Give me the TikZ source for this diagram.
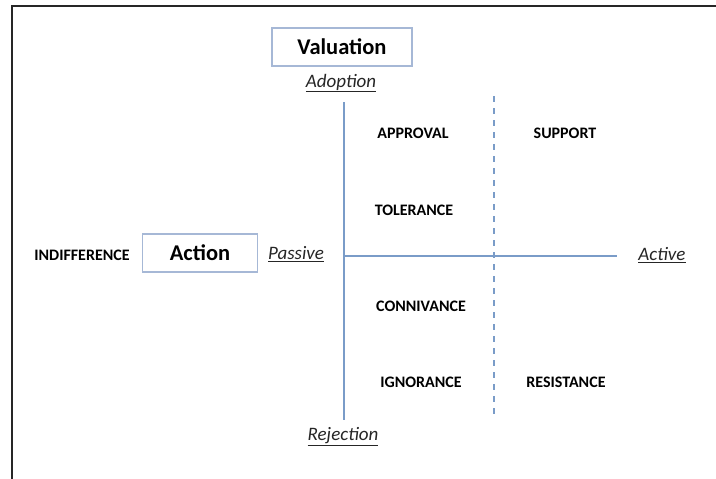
\documentclass[tikz,border=0pt]{standalone}
\usepackage{fontspec}
\setmainfont{Carlito}
\begin{document}
\begin{tikzpicture}[x=1pt,y=-1pt,
  frame/.style={draw=black!85, line width=2.2pt},
  axis/.style={draw=axisblue, line width=2.2pt},
  dashaxis/.style={draw=axisblue, line width=1.8pt, dash pattern=on 6pt off 6pt},
  titlebox/.style={draw=boxblue, line width=1.2pt, font=\bfseries\fontsize{22.5}{24}\selectfont, inner sep=0pt},
  quad/.style={font=\bfseries\fontsize{16}{18}\selectfont},
  pole/.style={font=\itshape\fontsize{19}{21}\selectfont, text=black!85}]
\definecolor{axisblue}{RGB}{122,156,200}
\definecolor{boxblue}{RGB}{166,184,214}
\useasboundingbox (0,0) rectangle (716,479);
\fill[white] (0,0) rectangle (716,479);
% frame
\coordinate (fTR) at (716,6);
\coordinate (fTL) at (12,6);
\coordinate (fBL) at (12,479);
\draw[frame] (fTR) -- (fTL) -- (fBL);
% title boxes
\node[titlebox, minimum width=140pt, minimum height=38pt] (val) at (342,47) {Valuation};
\node[titlebox, minimum width=115pt, minimum height=38pt] (act) at (200,253) {Action};
% poles
\node[pole] (adopt) at (341,83) {\underline{Adoption}};
\node[pole] (rej) at (343,437) {\underline{Rejection}};
\node[pole] (pass) at (296,254) {\underline{Passive}};
\node[pole] (actv) at (662,255) {\underline{Active}};
% axes
\coordinate (vT) at (344,102);
\coordinate (vB) at (344,420);
\coordinate (hL) at (344,256);
\coordinate (hR) at (617,256);
\coordinate (dT) at (494,96);
\coordinate (dB) at (494,418);
\draw[axis] (vT) -- (vB);
\draw[axis] (hL) -- (hR);
\draw[dashaxis] (dT) -- (dB);
% quadrant labels
\node[quad] (approval) at (413,133) {APPROVAL};
\node[quad] (support) at (565,133) {SUPPORT};
\node[quad] (tolerance) at (414,210) {TOLERANCE};
\node[quad] (connivance) at (421,306) {CONNIVANCE};
\node[quad] (ignorance) at (421,382) {IGNORANCE};
\node[quad] (resistance) at (566,382) {RESISTANCE};
\node[quad] (indiff) at (82,255) {INDIFFERENCE};
\end{tikzpicture}
\end{document}
